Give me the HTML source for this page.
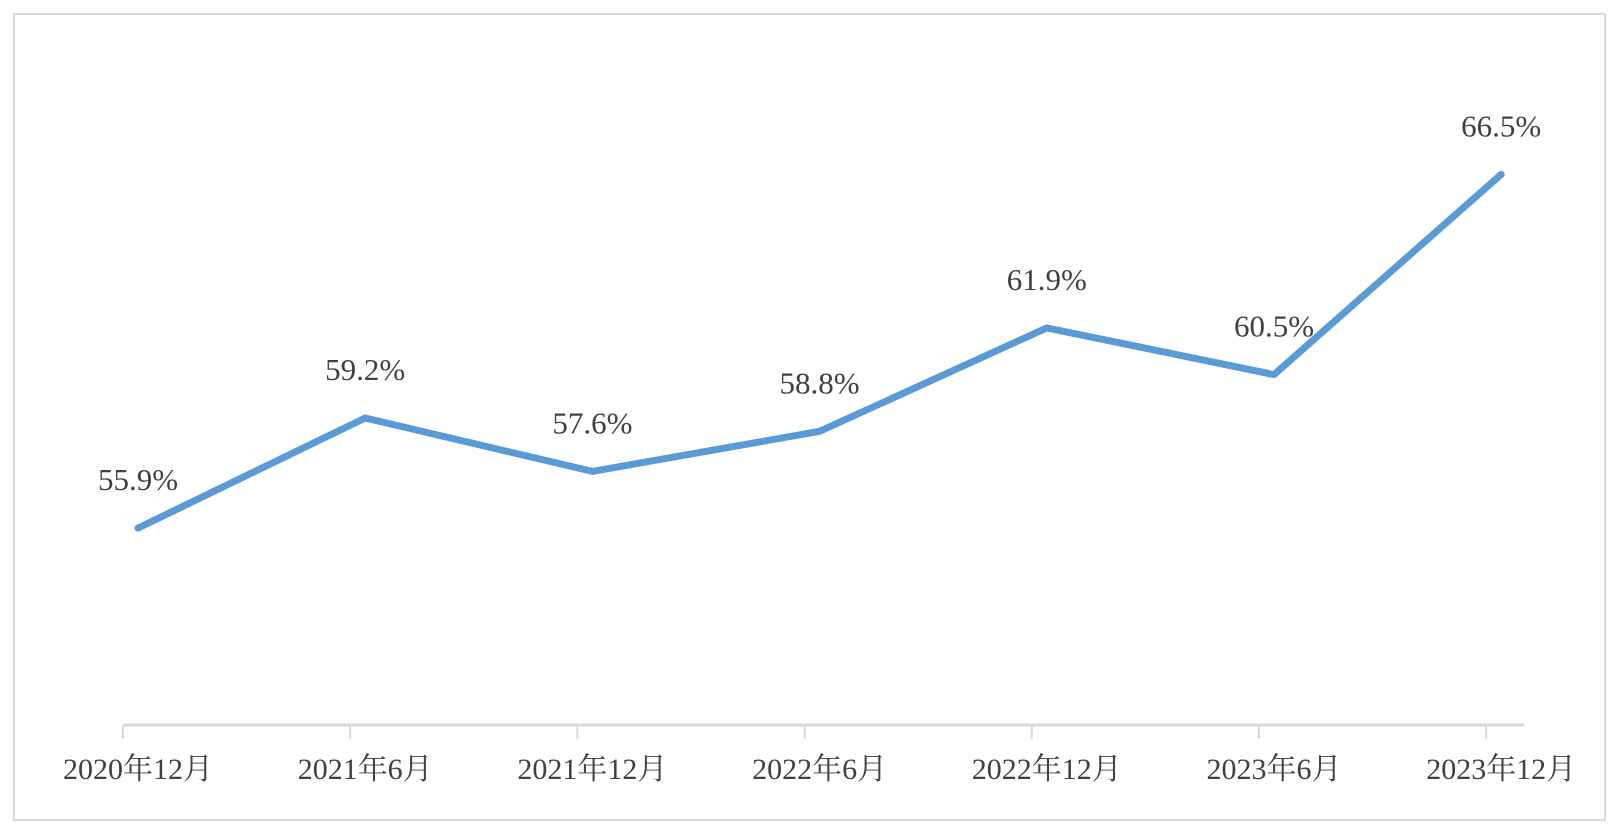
<!DOCTYPE html>
<html><head><meta charset="utf-8"><style>
html,body{margin:0;padding:0;background:#fff;}
svg{display:block;font-family:"Liberation Serif","Noto Serif CJK SC",serif;}
</style></head><body>
<svg width="1609" height="824">
<rect x="14" y="14" width="1591" height="806" fill="#fff" stroke="#d9d9d9" stroke-width="2"/>
<g id="g"></g>
</svg>
<script>
const categories=["2020年12月","2021年6月","2021年12月","2022年6月","2022年12月","2023年6月","2023年12月"];
const values=[55.9,59.2,57.6,58.8,61.9,60.5,66.5];
const labels=["55.9%","59.2%","57.6%","58.8%","61.9%","60.5%","66.5%"];
const yMin=50;
const ns="http://www.w3.org/2000/svg";
const g=document.getElementById('g');
const x0=123,step=227.2,off=15,axisY=725,pxPer=33.37;
const xT=i=>x0+i*step;
const xP=i=>xT(i)+off;
const yS=v=>axisY-(v-yMin)*pxPer;
function mk(t,a){const e=document.createElementNS(ns,t);for(const k in a)e.setAttribute(k,a[k]);g.appendChild(e);return e;}
const ax=mk('line',{x1:x0,x2:1524,y1:axisY,y2:axisY,stroke:'#d9d9d9','stroke-width':3});


categories.forEach((c,i)=>{
 const t=mk('line',{x1:xT(i),x2:xT(i),y1:axisY,y2:axisY+14,stroke:'#d9d9d9','stroke-width':2});
 
 
 const l=mk('text',{x:xP(i),y:axisY+54,'text-anchor':'middle','font-size':30,fill:'#404040'});
 l.textContent=c;
 
 
});
const p=mk('polyline',{points:values.map((v,i)=>xP(i)+','+yS(v)).join(' '),fill:'none',stroke:'#5b9bd5','stroke-width':7,'stroke-linecap':'round','stroke-linejoin':'round'});


values.forEach((v,i)=>{
 const t=mk('text',{x:xP(i),y:yS(v)-38,'text-anchor':'middle','font-size':31,fill:'#404040'});
 t.textContent=labels[i];
 
 
});
</script>
</body></html>
